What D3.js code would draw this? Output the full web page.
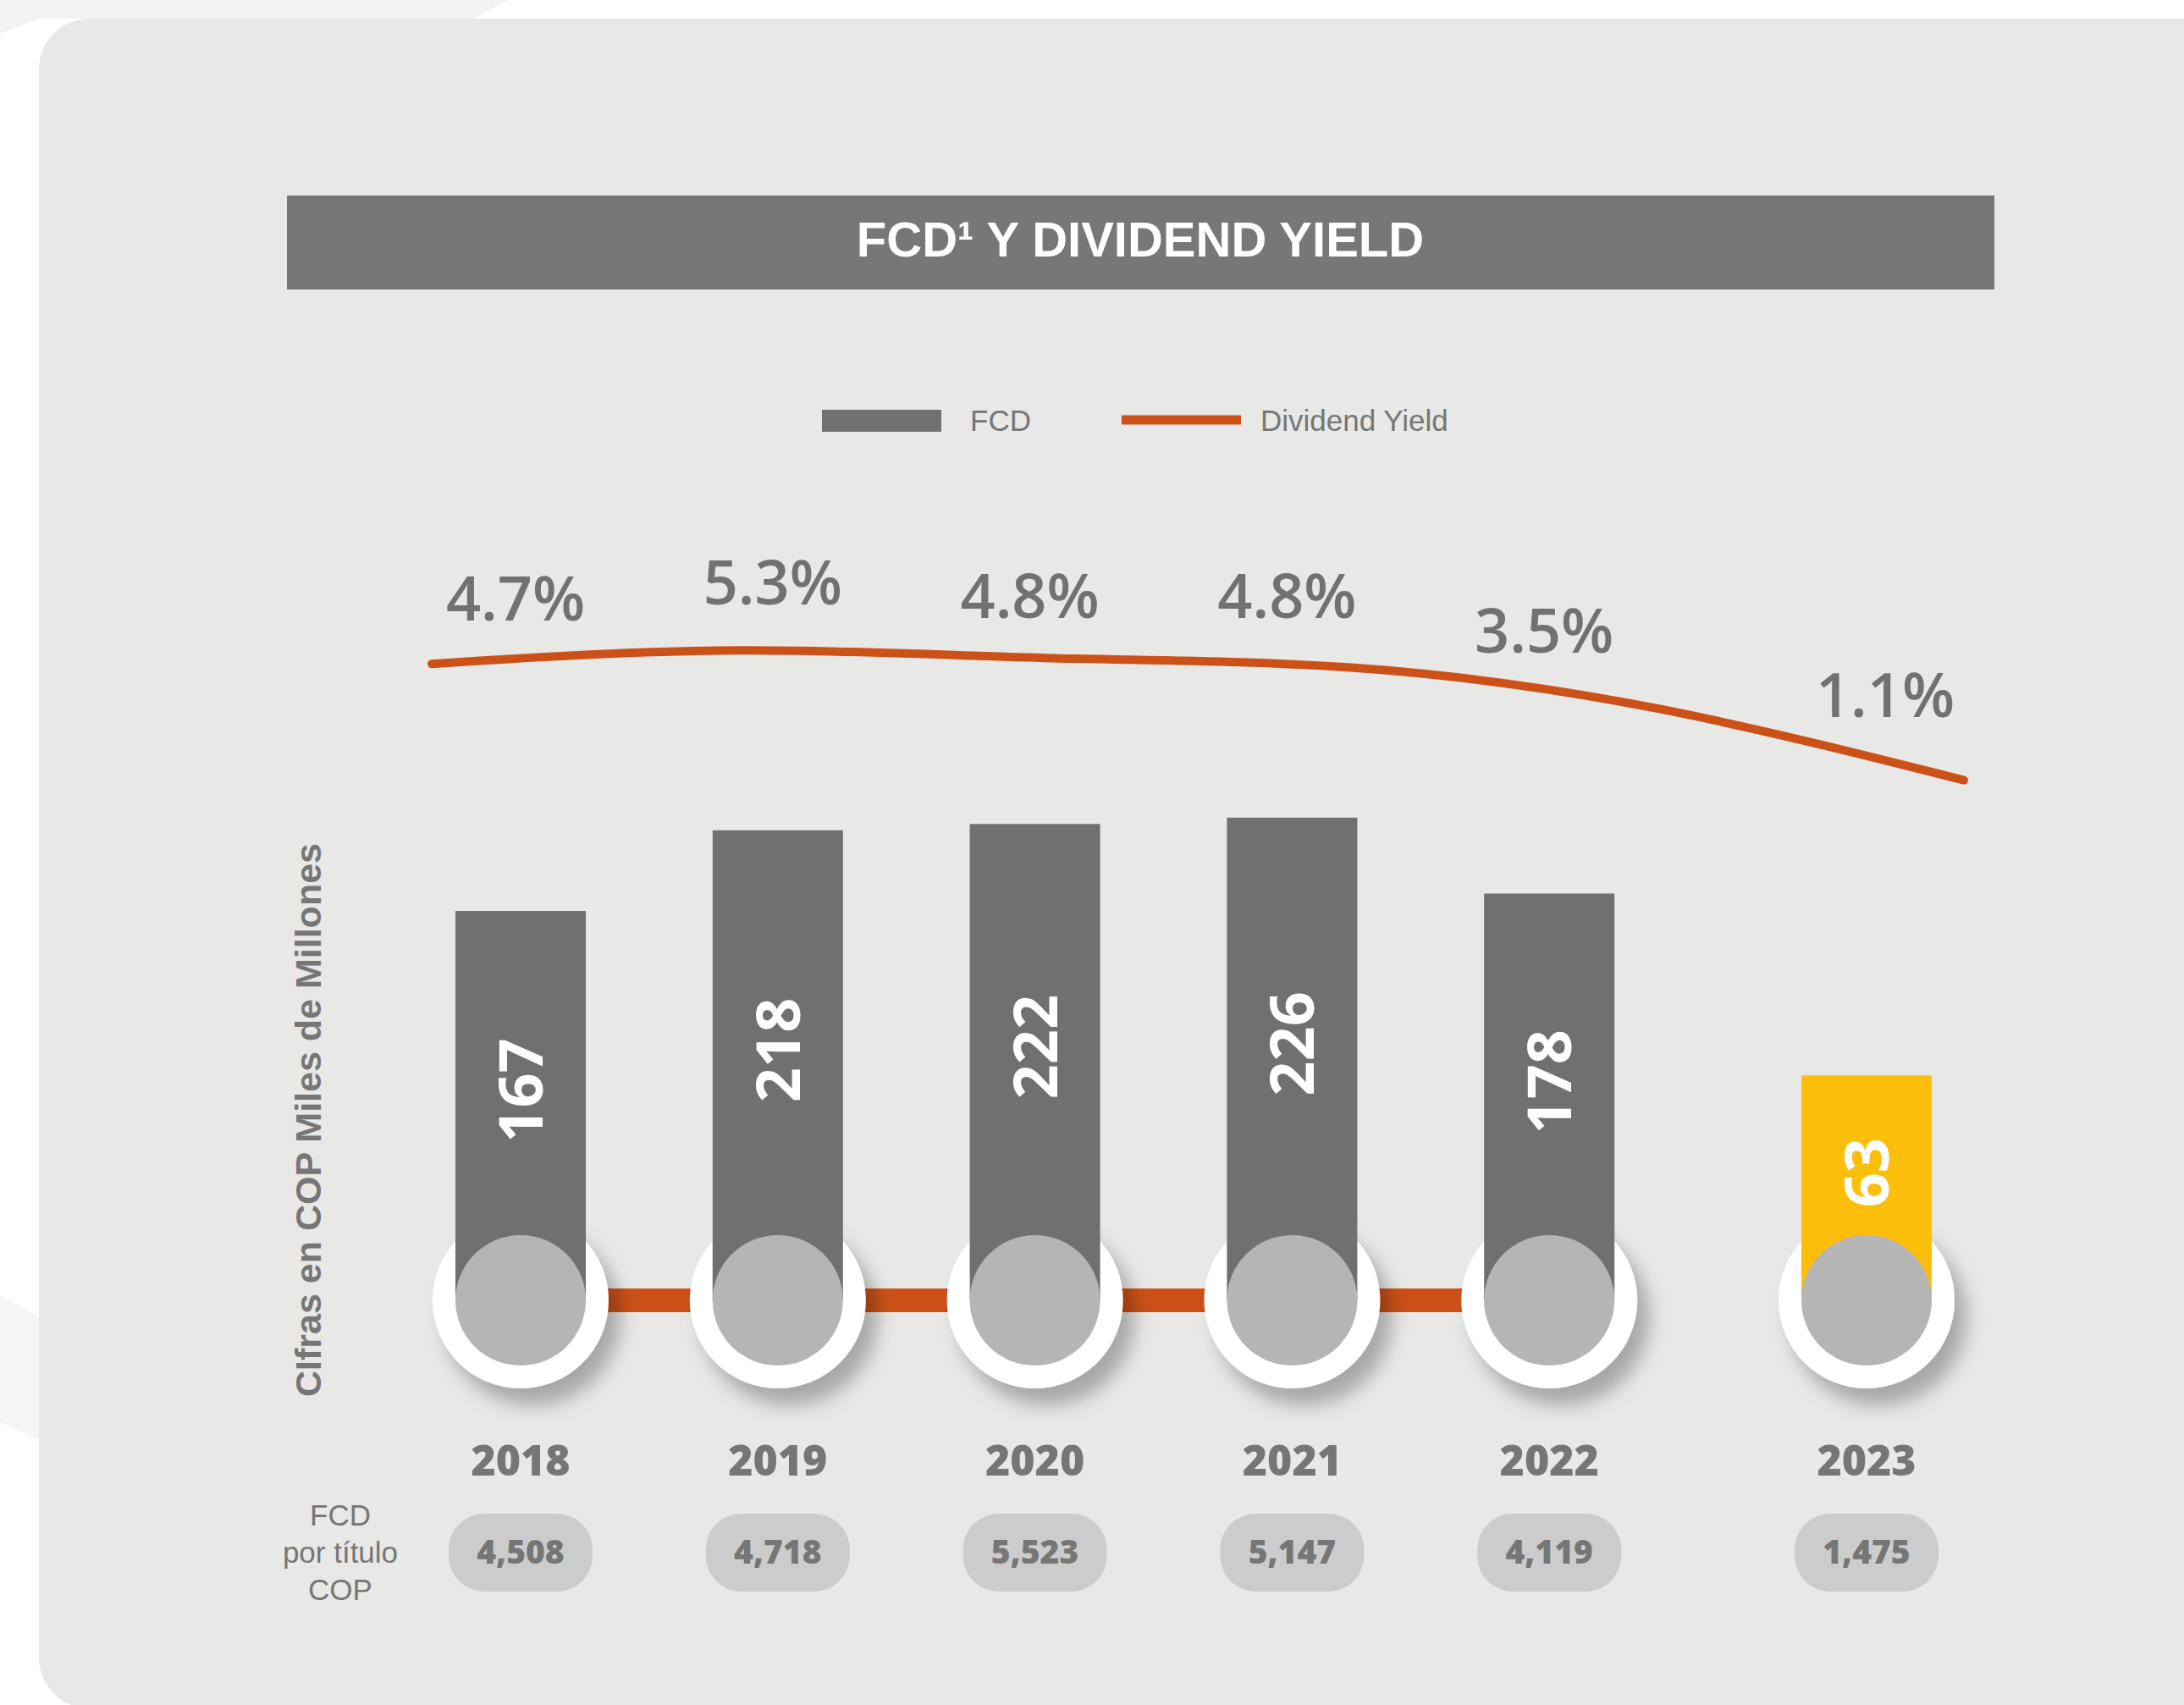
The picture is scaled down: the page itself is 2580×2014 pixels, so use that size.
<!DOCTYPE html>
<html lang="es">
<head>
<meta charset="utf-8">
<title>FCD y Dividend Yield</title>
<script src="https://d3js.org/d3.v7.min.js"></script>
<style>
  html, body { margin: 0; padding: 0; background: #ffffff; }
  svg { display: block; }
</style>
</head>
<body>
<script>
// data
var years = ["2018", "2019", "2020", "2021", "2022", "2023"];
var fcd = [167, 218, 222, 226, 178, 63];
var dividendYield = [4.7, 5.3, 4.8, 4.8, 3.5, 1.1];
var fcdPorTitulo = [4508, 4718, 5523, 5147, 4119, 1475];
var highlightYear = "2023";

var W = 2580, H = 2014;
var grey = "#767676", barGrey = "#716f70", orange = "#cc5119", yellow = "#fbbf0b";
var numFont = "'Open Sans', 'Noto Sans', sans-serif";
var txtFont = "'Liberation Sans', Arial, sans-serif";

var svg = d3.select("body").append("svg")
    .attr("width", W)
    .attr("height", H);

var defs = svg.append("defs");
defs.append("filter")
    .attr("id", "shadow")
    .attr("x", "-50%").attr("y", "-50%")
    .attr("width", "200%").attr("height", "200%")
  .append("feDropShadow")
    .attr("dx", 14).attr("dy", 20)
    .attr("stdDeviation", 11)
    .attr("flood-color", "#000")
    .attr("flood-opacity", 0.28);

// faint background shapes outside the card
svg.append("path")
    .attr("d", "M0,0 L600,0 L560,22 L46,22 L0,40 Z")
    .attr("fill", "#f3f3f3");
svg.append("path")
    .attr("d", "M0,1530 L46,1555 L46,1700 L0,1680 Z")
    .attr("fill", "#f5f5f5");

// card
svg.append("rect")
    .attr("x", 46).attr("y", 22)
    .attr("width", 2620).attr("height", 1996)
    .attr("rx", 60)
    .attr("fill", "#e8e8e6");

// title
svg.append("rect")
    .attr("x", 339).attr("y", 231)
    .attr("width", 2017).attr("height", 111)
    .attr("fill", "#777777");
svg.append("text")
    .attr("x", 1347).attr("y", 303)
    .attr("text-anchor", "middle")
    .style("font-family", txtFont)
    .style("font-weight", "bold")
    .style("font-size", "58px")
    .attr("fill", "#ffffff")
    .text("FCD¹ Y DIVIDEND YIELD");

// legend
var legend = svg.append("g");
legend.append("rect")
    .attr("x", 971).attr("y", 484)
    .attr("width", 141).attr("height", 26)
    .attr("fill", barGrey);
legend.append("text")
    .attr("x", 1146).attr("y", 509)
    .style("font-family", txtFont).style("font-size", "35px")
    .attr("fill", grey)
    .text("FCD");
legend.append("line")
    .attr("x1", 1325).attr("x2", 1466)
    .attr("y1", 496).attr("y2", 496)
    .attr("stroke", orange).attr("stroke-width", 11);
legend.append("text")
    .attr("x", 1489).attr("y", 509)
    .style("font-family", txtFont).style("font-size", "35px")
    .attr("fill", grey)
    .text("Dividend Yield");

// scales
var x = d3.scalePoint().domain(years).range([615, 2134]);
function cx(d) { return x(d) + (d === highlightYear ? 71 : 0); }

var yBar = d3.scaleLinear().domain([0, 250]).range([1388, 921]);
var xLine = d3.scalePoint().domain(years).range([510, 2320]);
var yLine = d3.scaleLinear().domain([0, 6]).range([963.6, 734.5]);
var yLabel = d3.scaleLinear().domain([0, 6]).range([882, 692]);

var baseY = 1536, rInner = 77, rOuter = 104;

var rows = years.map(function(d, i) {
  return { year: d, fcd: fcd[i], dy: dividendYield[i], pt: fcdPorTitulo[i] };
});

// y-axis title
svg.append("text")
    .attr("transform", "translate(379,1323) rotate(-90)")
    .attr("text-anchor", "middle")
    .style("font-family", txtFont)
    .style("font-weight", "bold")
    .style("font-size", "43px")
    .attr("fill", grey)
    .text("CIfras en COP Miles de Millones");

// connectors between the circles (highlighted year stands apart)
var linked = rows.filter(function(d) { return d.year !== highlightYear; });
svg.selectAll(".link")
    .data(linked.slice(0, -1))
    .enter().append("rect")
    .attr("class", "link")
    .attr("x", function(d) { return cx(d.year); })
    .attr("y", baseY - 14)
    .attr("width", function(d, i) { return cx(linked[i + 1].year) - cx(d.year); })
    .attr("height", 28)
    .attr("fill", orange);

// white rings with shadow
svg.selectAll(".ring")
    .data(rows)
    .enter().append("circle")
    .attr("class", "ring")
    .attr("cx", function(d) { return cx(d.year); })
    .attr("cy", baseY)
    .attr("r", rOuter)
    .attr("fill", "#ffffff")
    .attr("filter", "url(#shadow)");

// bars
svg.selectAll(".bar")
    .data(rows)
    .enter().append("rect")
    .attr("class", "bar")
    .attr("x", function(d) { return cx(d.year) - rInner; })
    .attr("y", function(d) { return yBar(d.fcd); })
    .attr("width", rInner * 2)
    .attr("height", function(d) { return baseY - yBar(d.fcd); })
    .attr("fill", function(d) { return d.year === highlightYear ? yellow : barGrey; });

// inner circles
svg.selectAll(".dot")
    .data(rows)
    .enter().append("circle")
    .attr("class", "dot")
    .attr("cx", function(d) { return cx(d.year); })
    .attr("cy", baseY)
    .attr("r", rInner)
    .attr("fill", "#b5b5b5");

// bar values
svg.selectAll(".val")
    .data(rows)
    .enter().append("text")
    .attr("class", "val")
    .attr("transform", function(d) {
      var my = (yBar(d.fcd) + 1500) / 2;
      return "translate(" + cx(d.year) + "," + my + ") rotate(-90)";
    })
    .attr("text-anchor", "middle")
    .attr("dy", "0.36em")
    .style("font-family", numFont)
    .style("font-weight", "700")
    .style("font-size", "72px")
    .attr("fill", "#ffffff")
    .text(function(d) { return d.fcd; });

// dividend yield line
var line = d3.line()
    .x(function(d) { return xLine(d.year); })
    .y(function(d) { return yLine(d.dy); })
    .curve(d3.curveBasis);
svg.append("path")
    .datum(rows)
    .attr("d", line)
    .attr("fill", "none")
    .attr("stroke", orange)
    .attr("stroke-width", 10)
    .attr("stroke-linecap", "round");

var pct = d3.format(".1f");
svg.selectAll(".pct")
    .data(rows)
    .enter().append("text")
    .attr("class", "pct")
    .attr("x", function(d) { return cx(d.year) + (d.year === highlightYear ? 22 : -6); })
    .attr("y", function(d) { return yLabel(d.dy); })
    .attr("text-anchor", "middle")
    .style("font-family", numFont)
    .style("font-weight", "600")
    .style("font-size", "72px")
    .attr("fill", "#727070")
    .text(function(d) { return pct(d.dy) + "%"; });

// year labels
svg.selectAll(".year")
    .data(rows)
    .enter().append("text")
    .attr("class", "year")
    .attr("x", function(d) { return cx(d.year); })
    .attr("y", 1743)
    .attr("text-anchor", "middle")
    .style("font-family", numFont)
    .style("font-weight", "800")
    .style("font-size", "50px")
    .attr("fill", grey)
    .text(function(d) { return d.year; });

// FCD por titulo pills
svg.selectAll(".pill")
    .data(rows)
    .enter().append("rect")
    .attr("class", "pill")
    .attr("x", function(d) { return cx(d.year) - 85; })
    .attr("y", 1788)
    .attr("width", 170)
    .attr("height", 92)
    .attr("rx", 42)
    .attr("fill", "#cccccc");

var comma = d3.format(",");
svg.selectAll(".pt")
    .data(rows)
    .enter().append("text")
    .attr("class", "pt")
    .attr("x", function(d) { return cx(d.year); })
    .attr("y", 1847)
    .attr("text-anchor", "middle")
    .style("font-family", numFont)
    .style("font-weight", "800")
    .style("font-size", "39px")
    .attr("fill", grey)
    .text(function(d) { return comma(d.pt); });

// left row label
var rowLabel = svg.append("text")
    .attr("text-anchor", "middle")
    .style("font-family", txtFont)
    .style("font-size", "35px")
    .attr("fill", grey);
["FCD", "por título", "COP"].forEach(function(t, i) {
  rowLabel.append("tspan").attr("x", 402).attr("y", 1802 + i * 44).text(t);
});
</script>
</body>
</html>
